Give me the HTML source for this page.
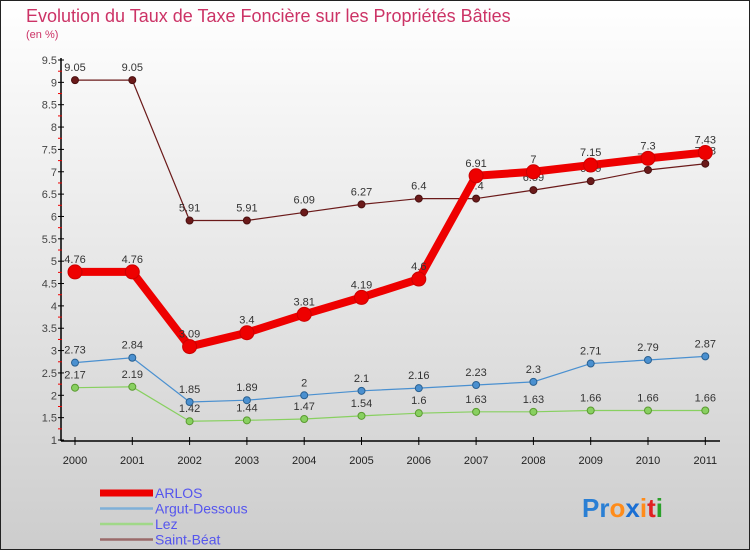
<!DOCTYPE html>
<html><head><meta charset="utf-8"><style>
html,body{margin:0;padding:0;}
body{width:750px;height:550px;overflow:hidden;font-family:"Liberation Sans",sans-serif;}
</style></head><body>
<svg id="chart" width="750" height="550" xmlns="http://www.w3.org/2000/svg">
<defs><linearGradient id="bg" x1="0" y1="0" x2="0" y2="1"><stop offset="0" stop-color="#ffffff"/><stop offset="1" stop-color="#cdcdcd"/></linearGradient></defs>
<rect x="0.5" y="0.5" width="749" height="549" fill="url(#bg)" stroke="#222"/>
<text x="26" y="22" font-size="18" fill="#cc3366">Evolution du Taux de Taxe Foncière sur les Propriétés Bâties</text>
<text x="26" y="38" font-size="11" fill="#cc3366">(en %)</text>
<g id="axes"></g><g id="series"></g><g id="legend"></g>
<text x="582" y="517" font-size="26" font-weight="bold"><tspan fill="#2a7fd4">Pr</tspan><tspan fill="#ff8c1a">o</tspan><tspan fill="#1a6fd4">x</tspan><tspan fill="#ff8c1a">i</tspan><tspan fill="#e02020">t</tspan><tspan fill="#2aa02a">i</tspan></text>
</svg>
<script>
const years=["2000","2001","2002","2003","2004","2005","2006","2007","2008","2009","2010","2011"];
const yTicks=[1,1.5,2,2.5,3,3.5,4,4.5,5,5.5,6,6.5,7,7.5,8,8.5,9,9.5];
const arlos=[4.76,4.76,3.09,3.4,3.81,4.19,4.6,6.91,7,7.15,7.3,7.43];
const argut=[2.73,2.84,1.85,1.89,2,2.1,2.16,2.23,2.3,2.71,2.79,2.87];
const lez=[2.17,2.19,1.42,1.44,1.47,1.54,1.6,1.63,1.63,1.66,1.66,1.66];
const saintBeat=[9.05,9.05,5.91,5.91,6.09,6.27,6.4,6.4,6.59,6.79,7.04,7.18];
const seriesNames=["ARLOS","Argut-Dessous","Lez","Saint-Béat"];
const NS="http://www.w3.org/2000/svg";
function xS(i){return 75+i*57.3;}
function yS(v){return 440-(v-1)*(380/8.5);}
function mk(tag,attrs,parent,text){const e=document.createElementNS(NS,tag);for(const k in attrs)e.setAttribute(k,attrs[k]);if(text!==undefined)e.textContent=text;parent.appendChild(e);return e;}
const ax=document.getElementById('axes');
let l=mk('line',{x1:61,y1:58,x2:61,y2:441,stroke:'#000','stroke-width':1.5},ax);


l=mk('line',{x1:61,y1:441,x2:720,y2:441,stroke:'#000','stroke-width':1.5},ax);


yTicks.forEach(v=>{const y=yS(v);
 mk('line',{x1:58,y1:y,x2:64,y2:y,stroke:'#000'},ax);
 mk('line',{x1:58,y1:y+11.2,x2:62,y2:y+11.2,stroke:v>1?'#e00':'none'},ax);
 const t=mk('text',{x:57,y:y+4,'font-size':11,'text-anchor':'end',fill:'#444'},ax,String(v));
 
 });
years.forEach((yr,i)=>{const x=xS(i);
 mk('line',{x1:x,y1:437,x2:x,y2:445,stroke:'#000'},ax);
 const t=mk('text',{x:x,y:464,'font-size':11,'text-anchor':'middle',fill:'#222'},ax,yr);
 
 });
const sg=document.getElementById('series');
function draw(vals,color,w,r,name,dark){
 const g=mk('g',{},sg);
 
 
 mk('polyline',{points:vals.map((v,i)=>xS(i)+','+yS(v)).join(' '),fill:'none',stroke:color,'stroke-width':w,'stroke-linejoin':'round'},g);
 vals.forEach((v,i)=>{const c=mk('circle',{cx:xS(i),cy:yS(v),r:r,fill:color,stroke:dark,'stroke-width':1},g);
  
  
  const t=mk('text',{x:xS(i),y:yS(v)-9,'font-size':11,'text-anchor':'middle',fill:'#333'},g,String(v));
  
  });
}
draw(saintBeat,'#6b1a1a',1.2,3.5,'series-saint-beat','#4a1010');
draw(lez,'#88d060',1.2,3.5,'series-lez','#5a9a30');
draw(argut,'#4a90d0',1.2,3.5,'series-argut-dessous','#2a6090');
draw(arlos,'#ee0000',8,7,'series-arlos','#cc0000');
const lg=document.getElementById('legend');
const lc=['#ee0000','#7fb0d8','#a0d888','#9a6a6a'],lw=[7,2.5,2.5,2.5];
seriesNames.forEach((n,i)=>{const y=491+i*15.5;
 const g=mk('g',{},lg);
 
 
 mk('line',{x1:100,y1:y+2,x2:153,y2:y+2,stroke:lc[i],'stroke-width':lw[i]},g);
 mk('text',{x:155,y:y+7,'font-size':14,fill:'#5555ee'},g,n);});
</script>
</body></html>
